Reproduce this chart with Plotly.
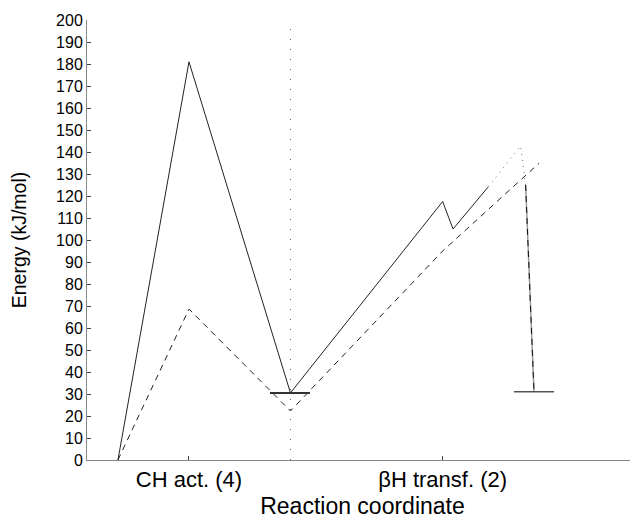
import plotly.graph_objects as go

# Reaction coordinate positions (CH act. = 1, βH transf. = 2)
solid_x = [0.72, 1.0, 1.40, 2.0, 2.041, 2.18]
solid_y = [0, 181, 30.5, 117.5, 105, 124.2]

dotted_x = [2.18, 2.307, 2.327]
dotted_y = [124.2, 142.7, 125]

drop_x = [2.327, 2.36]
drop_y = [125, 31]

dashed_x = [0.72, 1.0, 1.40, 2.0, 2.38]
dashed_y = [0, 68.6, 22.3, 95, 134.9]

bar1_x = [1.319, 1.477]
bar1_y = [30.5, 30.5]
bar2_x = [2.281, 2.439]
bar2_y = [31, 31]

divider_x = [1.40, 1.40]
divider_y = [0, 200]

tick_vals = [1, 2]
tick_text = ["CH act. (4)", "βH transf. (2)"]
y_ticks = list(range(0, 201, 10))

fig = go.Figure()
fig.add_trace(go.Scatter(x=divider_x, y=divider_y, mode="lines",
                         line=dict(color="#666", width=1, dash="1px,9px")))
fig.add_trace(go.Scatter(x=solid_x, y=solid_y, mode="lines",
                         line=dict(color="#222", width=1)))
fig.add_trace(go.Scatter(x=dotted_x, y=dotted_y, mode="lines",
                         line=dict(color="#777", width=1, dash="1px,5px")))
fig.add_trace(go.Scatter(x=drop_x, y=drop_y, mode="lines",
                         line=dict(color="#999", width=1.5)))
fig.add_trace(go.Scatter(x=dashed_x, y=dashed_y, mode="lines",
                         line=dict(color="#222", width=1, dash="6px,5px")))
fig.add_trace(go.Scatter(x=drop_x, y=drop_y, mode="lines",
                         line=dict(color="#111", width=1, dash="6px,5px")))
fig.add_trace(go.Scatter(x=bar1_x, y=bar1_y, mode="lines",
                         line=dict(color="#333", width=2)))
fig.add_trace(go.Scatter(x=bar2_x, y=bar2_y, mode="lines",
                         line=dict(color="#555", width=1.5)))

# page body has an 8px margin, so the figure is shrunk/shifted to compensate
fig.update_layout(
    width=630, height=511,
    margin=dict(l=79, r=0, t=12, b=59),
    paper_bgcolor="white", plot_bgcolor="white",
    showlegend=False,
    font=dict(family="Liberation Sans, Arial, sans-serif", color="#000"),
)
fig.update_xaxes(
    range=[0.598, 2.77], tickvals=tick_vals, ticktext=tick_text,
    ticks="inside", ticklen=4, tickcolor="#444",
    showline=True, linecolor="#888", linewidth=1,
    showgrid=False, zeroline=False,
    tickfont=dict(size=22),
    title=dict(text="Reaction coordinate", font=dict(size=23), standoff=6),
)
fig.update_yaxes(
    range=[0, 200], tickvals=y_ticks,
    ticks="inside", ticklen=4, tickcolor="#444",
    showline=True, linecolor="#888", linewidth=1,
    showgrid=False, zeroline=False,
    tickfont=dict(size=16),
    title=dict(text="Energy (kJ/mol)", font=dict(size=19.5), standoff=24),
)
fig.write_html("out.html")
